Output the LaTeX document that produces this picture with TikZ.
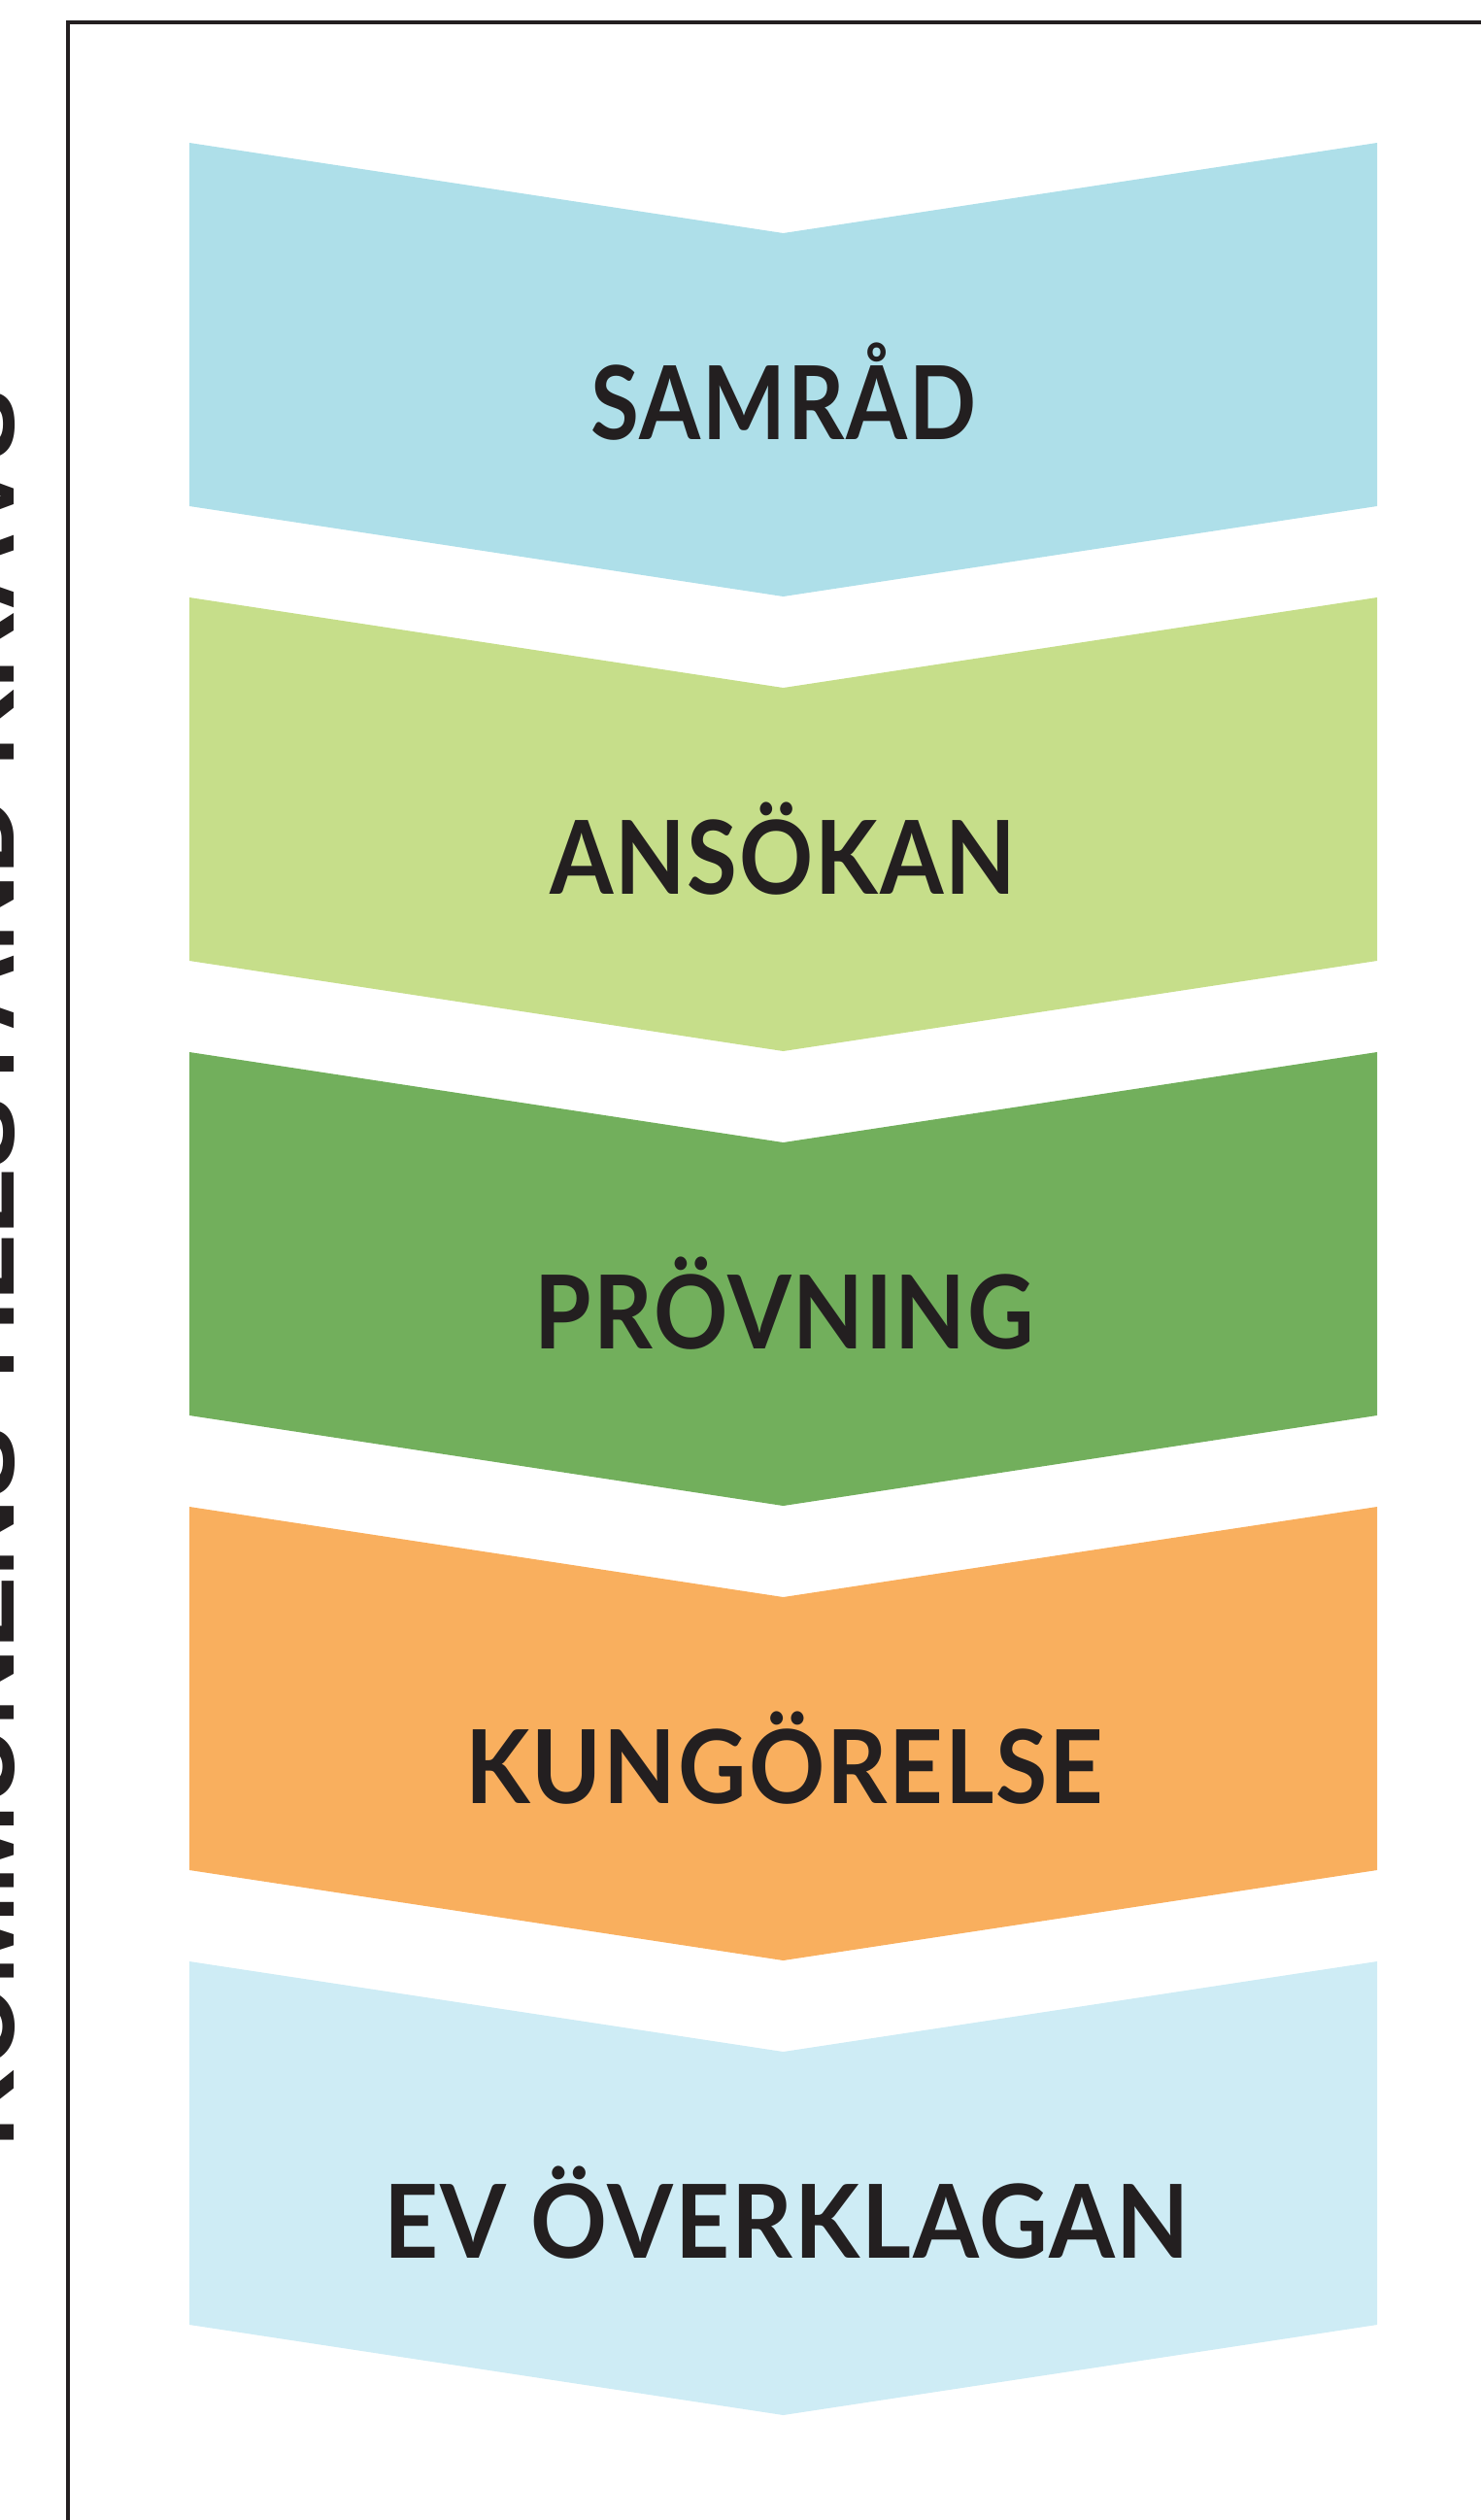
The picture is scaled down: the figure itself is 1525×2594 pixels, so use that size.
\documentclass[tikz,border=0pt]{standalone}
\usepackage{fontspec}
\setmainfont{Lato}
\newfontfamily\lblfont{Lato}[LetterSpace=2.0]
\newfontfamily\sidefont{Liberation Sans}
\definecolor{ink}{HTML}{231F20}
\definecolor{cSamrad}{HTML}{AEDFE9}
\definecolor{cAnsokan}{HTML}{C6DE8A}
\definecolor{cProvning}{HTML}{72AF5C}
\definecolor{cKungorelse}{HTML}{F9AF5E}
\definecolor{cOverklagan}{HTML}{CEECF5}
\newcommand\lbltext[2]{\resizebox{#1pt}{\height}{#2}}
\begin{document}
\begin{tikzpicture}[x=1pt,y=-1pt,
  lbl/.style={anchor=base,inner sep=0pt,text=ink,font=\lblfont\bfseries\fontsize{105}{116}\selectfont},
  frameline/.style={draw=ink,line width=4pt}]
\useasboundingbox (0,0) rectangle (1525,2594);
\begin{scope}
\clip (0,0) rectangle (1525,2594);
% frame
\draw[frameline] (70,2700) -- (70,23) -- (1600,23);
% side text
\node[rotate=90,anchor=base,inner sep=0pt,text=ink] (side) at (14,1305)
  {\resizebox{1810pt}{!}{\sidefont\bfseries KOMMUNENS TILLSTÅND KRÄVS}};
% chevrons
\foreach \i/\c in {0/cSamrad,1/cAnsokan,2/cProvning,3/cKungorelse,4/cOverklagan}{
  \pgfmathsetmacro{\yo}{147+468*\i}
  \fill[\c] (195,\yo) -- (806.5,\yo+93) -- (1418,\yo) -- (1418,\yo+374)
    -- (806.5,\yo+467) -- (195,\yo+374) -- cycle;
}
\end{scope}
% labels
\node[lbl] (samrad) at (807,452) {\lbltext{397}{SAMRÅD}};
\node[lbl] (ansokan) at (806,920) {\lbltext{480}{ANSÖKAN}};
\node[lbl] (provning) at (808,1388) {\lbltext{514}{PRÖVNING}};
\node[lbl] (kungorelse) at (808,1856) {\lbltext{657}{KUNGÖRELSE}};
\node[lbl] (overklagan) at (810,2324) {\lbltext{830}{EV ÖVERKLAGAN}};
\end{tikzpicture}
\end{document}
